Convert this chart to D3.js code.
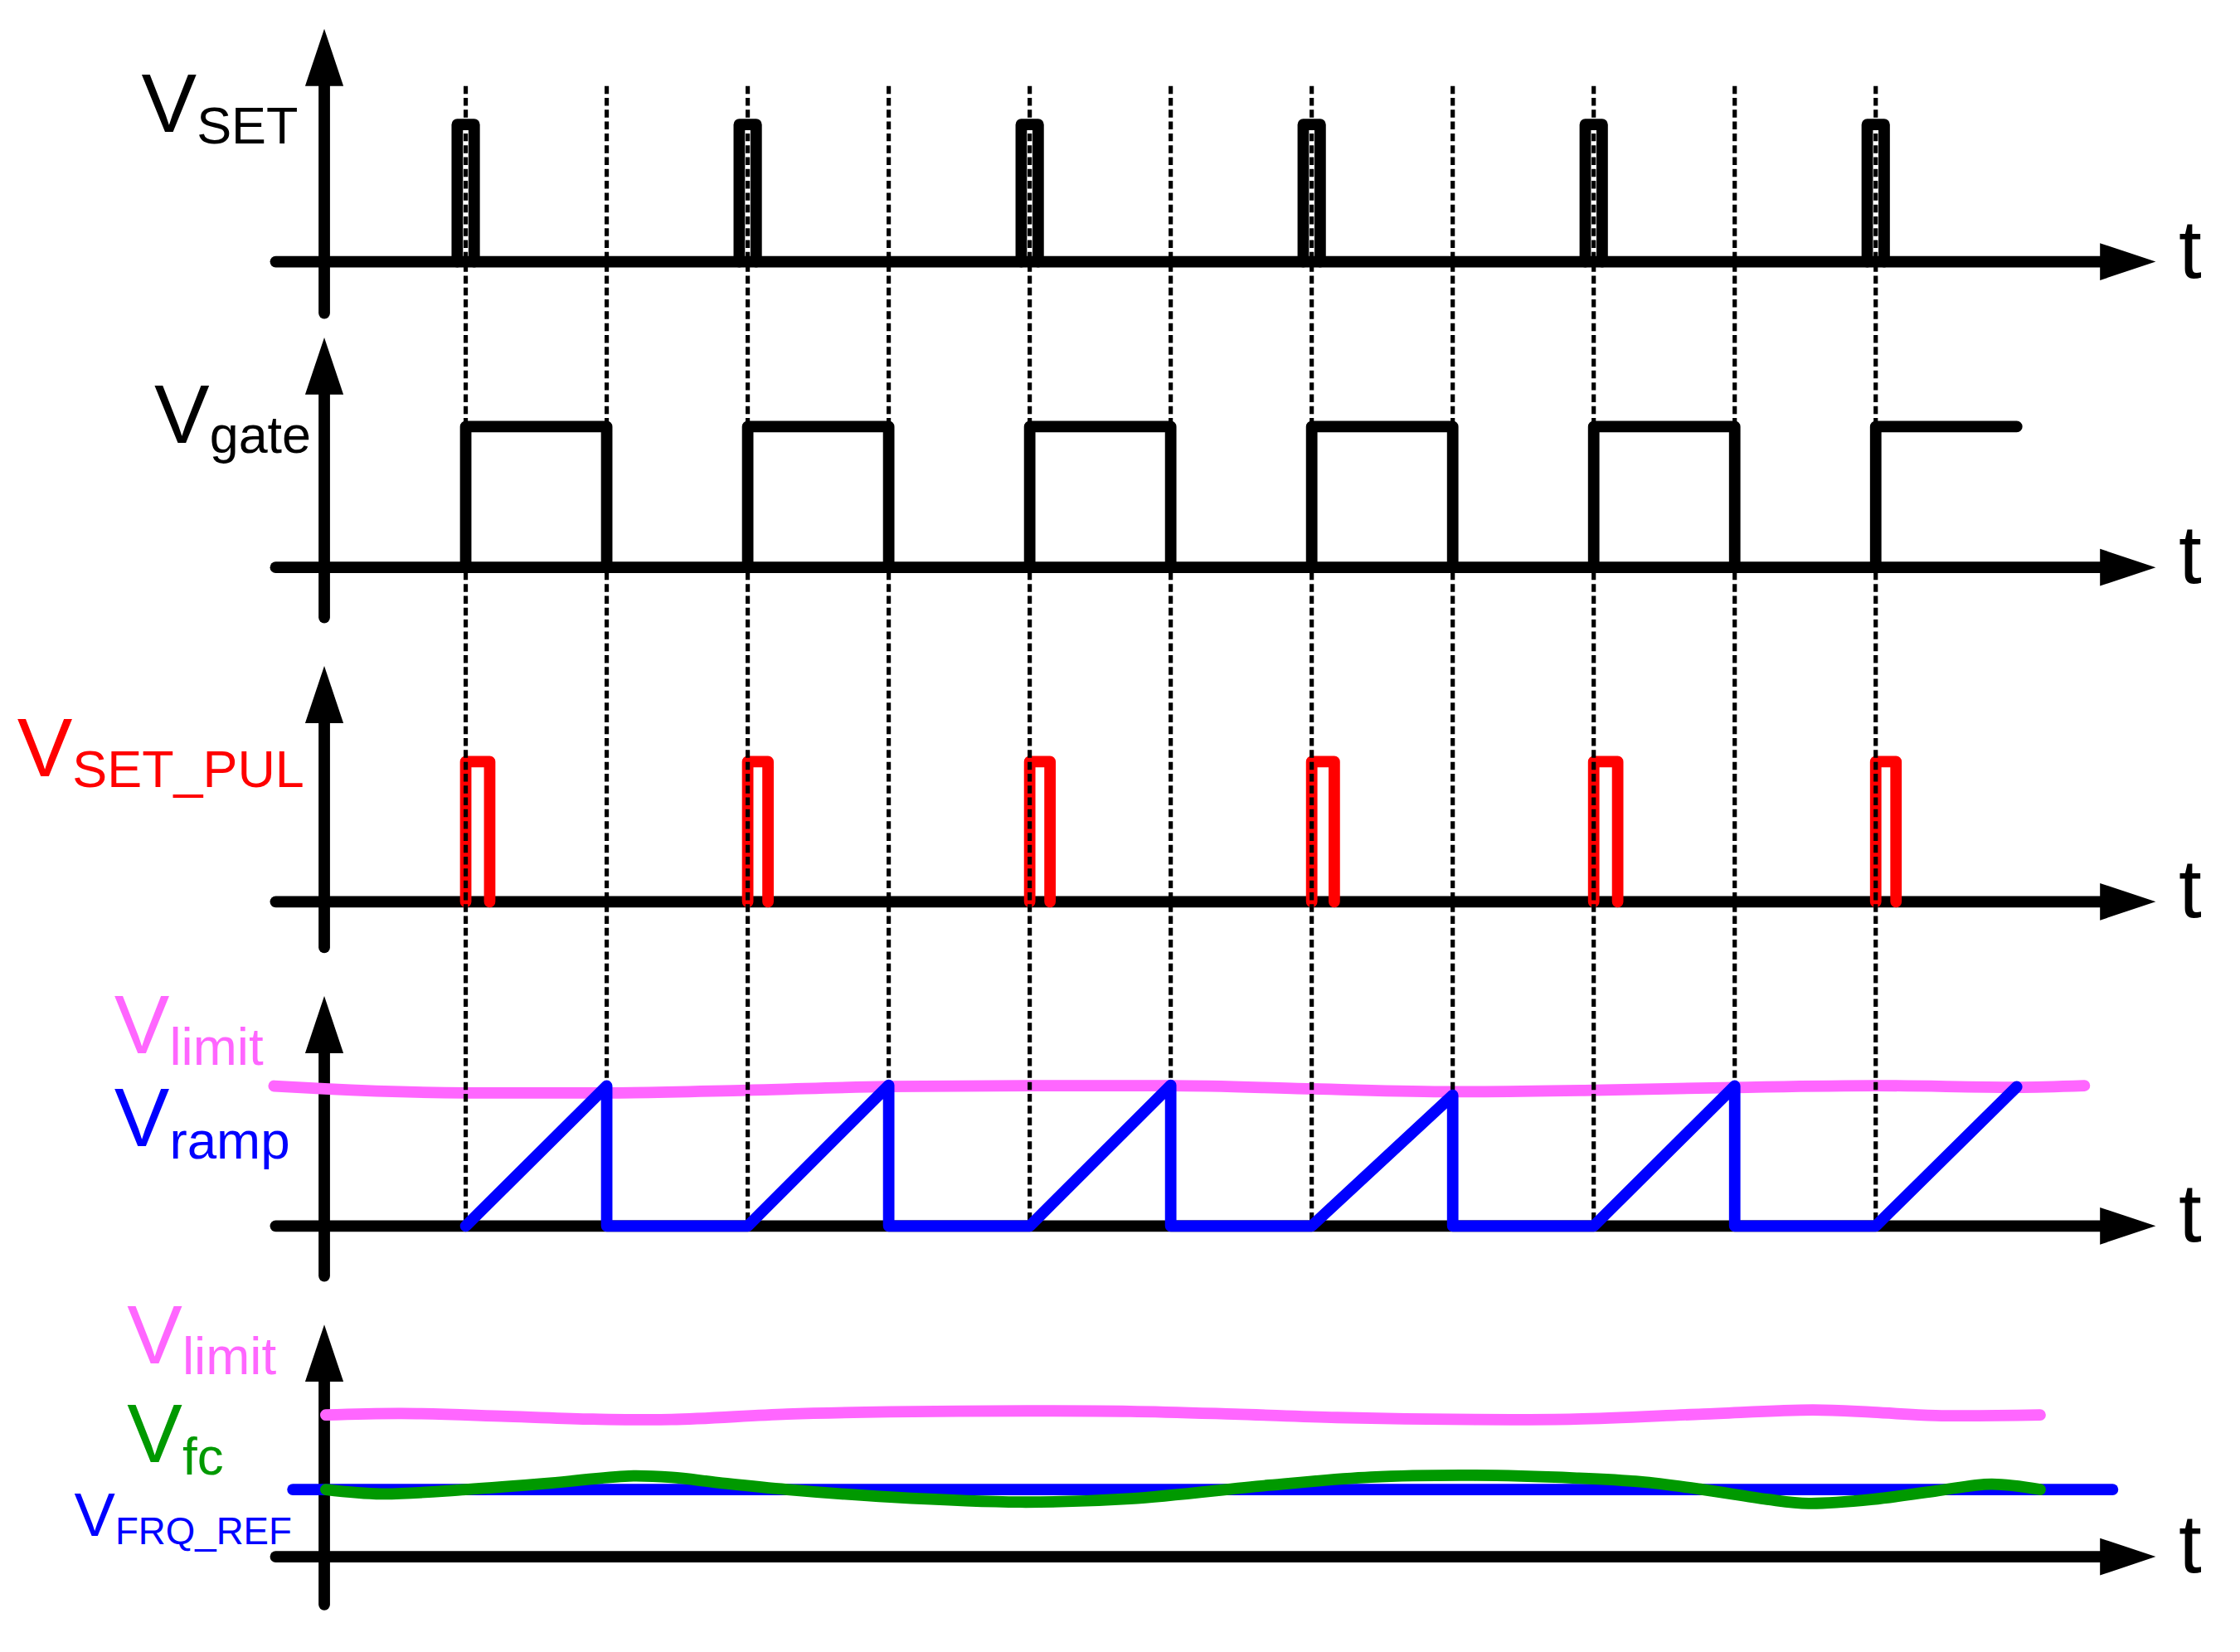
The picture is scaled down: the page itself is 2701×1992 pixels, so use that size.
<!DOCTYPE html>
<html>
<head>
<meta charset="utf-8">
<script src="https://cdn.jsdelivr.net/npm/d3@7"></script>
<style>
  html, body { margin: 0; padding: 0; background: #fff; }
  svg { display: block; }
  text { font-family: "Liberation Sans", Arial, sans-serif; }
</style>
</head>
<body>
<div id="chart"></div>
<script>
// ---------------- DATA ----------------
// time unit: one switching period = 1; dashed markers every half period
const dashTimes = [0, 0.5, 1, 1.5, 2, 2.5, 3, 3.5, 4, 4.5, 5];

// V_SET narrow set pulses
const vsetRise = [-0.03, 0.97, 1.97, 2.97, 3.97, 4.97];
const vsetFall = [0.03, 1.03, 2.03, 3.03, 4.03, 5.03];
const vsetHigh = 60;

// V_gate
const gateRise = [0, 1, 2, 3, 4, 5];
const gateFall = [0.5, 1.5, 2.5, 3.5, 4.5, 5.5];
const gateFallsToZero = [true, true, true, true, true, false];
const gateHigh = 61.6;

// V_SET_PUL red pulses
const pulRise = [0, 1, 2, 3, 4, 5];
const pulFall = [0.085, 1.072, 2.072, 3.08, 4.085, 5.072];
const pulHigh = 61.25;

// V_ramp
const rampStart = [0, 1, 2, 3, 4, 5];
const rampPeakT = [0.5, 1.5, 2.5, 3.5, 4.5, 5.5];
const rampPeakV = [61.25, 61.6, 61.6, 57.2, 61.25, 60.9];
const rampResets = [true, true, true, true, true, false];

// V_limit in the ramp panel
const limit4T = [-0.68, -0.5, 0, 0.5, 1, 1.5, 2, 2.5, 3, 3.5, 4, 4.5, 5, 5.5, 5.74];
const limit4V = [61.25, 60, 58.25, 58.25, 59.4, 61, 61.4, 61.4, 60, 58.75, 59.4, 60.6, 61.4, 60.7, 61.4];

// bottom panel: V_limit, V_fc, V_FRQ_REF
const limit5T = [-0.496, -0.228, 0.147, 0.451, 0.73, 1.14, 1.505, 1.99, 2.356, 2.725, 3.09, 3.577, 3.936, 4.387, 4.777, 4.99, 5.213, 5.583];
const limit5V = [62, 62.7, 61.4, 60.2, 60, 62.4, 63.4, 63.8, 63.6, 62.4, 60.9, 60, 60.2, 62.4, 64.2, 63.2, 61.75, 62];

const fcT = [-0.496, -0.299, 0, 0.299, 0.578, 0.73, 0.897, 1.14, 1.505, 1.966, 2.356, 2.847, 3.21, 3.577, 3.94, 4.164, 4.387, 4.615, 4.762, 4.99, 5.213, 5.41, 5.583];
const fcV = [29.4, 27.5, 29.4, 32.2, 35.3, 34.7, 32.4, 29.4, 26.1, 23.9, 25.4, 31.25, 34.8, 35.6, 34.4, 32.8, 29.4, 25.1, 23.3, 25.1, 28.75, 31.75, 29.4];

const refT = [-0.613, 5.84];
const refV = [29.4, 29.4];

// labels
const labelMain = ["V", "V", "V", "V", "V", "V", "V", "V"];
const labelSub = ["SET", "gate", "SET_PUL", "limit", "ramp", "limit", "fc", "FRQ_REF"];
const axisLabel = "t";

// ---------------- STYLE / LAYOUT ----------------
const BLACK = "#000000", RED = "#ff0000", PINK = "#ff66ff", BLUE = "#0000ff", GREEN = "#009900";
const labelColor = [BLACK, BLACK, RED, PINK, BLUE, PINK, GREEN, BLUE];
const labelX = [99, 108, 12, 80, 80, 89, 89, 52];
const labelY = [92, 310, 543, 737, 802, 954, 1023, 1075];
const labelSize = [58, 58, 58, 58, 58, 58, 58, 43];
const subSize = [36.5, 36.5, 36.5, 37, 37, 37, 37, 26.5];
const subDy = [8, 7, 8, 8, 9, 8, 9, 6];

const VBW = 1568, VBH = 1156;
const SW = 8;             // signal / axis stroke width (view units)
const axisX = 227;        // vertical axes position
const hStart = 193, hArrowBase = 1470, hArrowTip = 1509, hHalf = 13;
const vHalf = 13.4, vLen = 40;
const panelBase = [183, 397, 631, 858, 1089.5];
const panelTop = [20, 236, 466, 697, 927];
const panelBottom = [219, 432, 663, 893, 1123];

const svg = d3.select("#chart").append("svg")
  .attr("width", 2701).attr("height", 1992)
  .attr("viewBox", `0 0 ${VBW} ${VBH}`);

const x = d3.scaleLinear().domain([0, 5]).range([326, 1313]);
const ys = panelBase.map(b => d3.scaleLinear().domain([0, 100]).range([b, b - 160]));

// ---------------- AXES ----------------
const gAxes = svg.append("g");
panelBase.forEach((b, i) => {
  gAxes.append("line")
    .attr("x1", hStart).attr("x2", hArrowBase + 2)
    .attr("y1", b).attr("y2", b)
    .attr("stroke", BLACK).attr("stroke-width", SW).attr("stroke-linecap", "round");
  gAxes.append("path")
    .attr("d", `M${hArrowBase},${b - hHalf}L${hArrowTip},${b}L${hArrowBase},${b + hHalf}Z`)
    .attr("fill", BLACK);
  gAxes.append("line")
    .attr("x1", axisX).attr("x2", axisX)
    .attr("y1", panelBottom[i]).attr("y2", panelTop[i] + vLen - 2)
    .attr("stroke", BLACK).attr("stroke-width", SW).attr("stroke-linecap", "round");
  gAxes.append("path")
    .attr("d", `M${axisX - vHalf},${panelTop[i] + vLen}L${axisX},${panelTop[i]}L${axisX + vHalf},${panelTop[i] + vLen}Z`)
    .attr("fill", BLACK);
  gAxes.append("text")
    .attr("x", 1525).attr("y", b + 11)
    .attr("font-size", 58).attr("fill", BLACK)
    .text(axisLabel);
});

const lineGen = (curve) => d3.line().x(d => x(d[0])).y(d => d[1]).curve(curve || d3.curveLinear);
const sig = (g, d, color) => g.append("path").attr("d", d)
  .attr("fill", "none").attr("stroke", color).attr("stroke-width", SW)
  .attr("stroke-linejoin", "round").attr("stroke-linecap", "round");

// ---------------- PINK LIMIT LINES ----------------
const gLimits = svg.append("g");
sig(gLimits, lineGen(d3.curveMonotoneX)(limit4T.map((t, i) => [t, ys[3](limit4V[i])])), PINK);
sig(gLimits, lineGen(d3.curveCatmullRom)(limit5T.map((t, i) => [t, ys[4](limit5V[i])])), PINK);

// ---------------- PANEL 1: V_SET ----------------
const g1 = svg.append("g");
vsetRise.forEach((r, i) => {
  const p = d3.path();
  p.moveTo(x(r), ys[0](0));
  p.lineTo(x(r), ys[0](vsetHigh));
  p.lineTo(x(vsetFall[i]), ys[0](vsetHigh));
  p.lineTo(x(vsetFall[i]), ys[0](0));
  sig(g1, p.toString(), BLACK);
});

// ---------------- PANEL 2: V_gate ----------------
const g2 = svg.append("g");
gateRise.forEach((r, i) => {
  const p = d3.path();
  p.moveTo(x(r), ys[1](0));
  p.lineTo(x(r), ys[1](gateHigh));
  p.lineTo(x(gateFall[i]), ys[1](gateHigh));
  if (gateFallsToZero[i]) p.lineTo(x(gateFall[i]), ys[1](0));
  sig(g2, p.toString(), BLACK);
});

// ---------------- PANEL 3: V_SET_PUL ----------------
const g3 = svg.append("g");
pulRise.forEach((r, i) => {
  const p = d3.path();
  p.moveTo(x(r), ys[2](0));
  p.lineTo(x(r), ys[2](pulHigh));
  p.lineTo(x(pulFall[i]), ys[2](pulHigh));
  p.lineTo(x(pulFall[i]), ys[2](0));
  sig(g3, p.toString(), RED);
});

// ---------------- DASHED MARKERS ----------------
const gDash = svg.append("g");
gDash.selectAll("line").data(dashTimes).join("line")
  .attr("x1", d => x(d)).attr("x2", d => x(d))
  .attr("y1", 60).attr("y2", ys[3](0) - 4)
  .attr("stroke", BLACK).attr("stroke-width", 3)
  .attr("stroke-dasharray", "5.5 2.8");

// ---------------- PANEL 4: V_ramp ----------------
const g4 = svg.append("g");
{
  const p = d3.path();
  rampStart.forEach((s, i) => {
    if (i === 0) p.moveTo(x(s), ys[3](0)); else p.lineTo(x(s), ys[3](0));
    p.lineTo(x(rampPeakT[i]), ys[3](rampPeakV[i]));
    if (rampResets[i]) p.lineTo(x(rampPeakT[i]), ys[3](0));
  });
  sig(g4, p.toString(), BLUE);
}

// ---------------- PANEL 5: V_FRQ_REF and V_fc ----------------
const g5 = svg.append("g");
sig(g5, lineGen()(refT.map((t, i) => [t, ys[4](refV[i])])), BLUE);
sig(g5, lineGen(d3.curveCatmullRom)(fcT.map((t, i) => [t, ys[4](fcV[i])])), GREEN);

// ---------------- LABELS ----------------
const gLab = svg.append("g");
labelSub.forEach((s, i) => {
  const t = gLab.append("text")
    .attr("x", labelX[i]).attr("y", labelY[i])
    .attr("fill", labelColor[i]).attr("font-size", labelSize[i]);
  t.append("tspan").text(labelMain[i]);
  t.append("tspan").attr("font-size", subSize[i]).attr("dy", subDy[i]).text(s);
});
</script>
</body>
</html>
